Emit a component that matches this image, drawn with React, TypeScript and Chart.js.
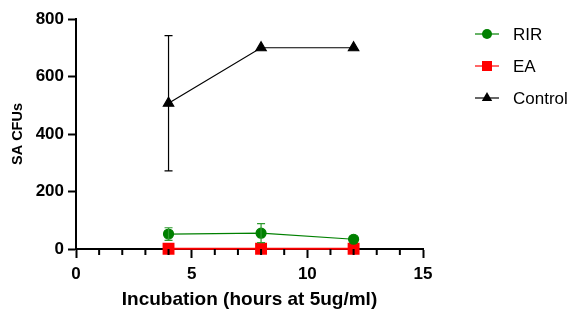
import React, { useEffect, useRef } from "react";
import { Chart, registerables } from "chart.js";

Chart.register(...registerables);

const hours = [4, 8, 12];
const rirValues = [52, 55, 34];
const rirErrors = [22, 33, 0];
const eaValues = [1, 1, 1];
const eaErrors = [0, 0, 0];
const controlValues = [507, 700, 700];
const controlErrors = [235, 0, 0];
const xTicks = [0, 5, 10, 15];
const xMinorTicks = [1, 2, 3, 4, 6, 7, 8, 9, 11, 12, 13, 14];
const yTicks = [0, 200, 400, 600, 800];

const seriesLabels = ["RIR", "EA", "Control"];
const seriesColors = ["#008000", "#ff0000", "#000000"];
const errorColors = ["#2e9a2e", "#ff0000", "#000000"];
const seriesErrors = [rirErrors, eaErrors, controlErrors];

const errorBarPlugin = {
  id: "errorBars",
  afterDatasetsDraw(chart: any) {
    const { ctx } = chart;
    const xs = chart.scales.x;
    const ys = chart.scales.y;
    ctx.save();
    chart.data.datasets.forEach((ds: any, i: number) => {
      const errs = seriesErrors[i];
      ds.data.forEach((p: any, j: number) => {
        const e = errs[j];
        if (!e) return;
        const px = xs.getPixelForValue(p.x);
        const top = ys.getPixelForValue(p.y + e);
        const bot = ys.getPixelForValue(p.y - e);
        ctx.strokeStyle = errorColors[i];
        ctx.lineWidth = 1.2;
        ctx.beginPath();
        ctx.moveTo(px, top);
        ctx.lineTo(px, bot);
        ctx.moveTo(px - 4, top);
        ctx.lineTo(px + 4, top);
        ctx.moveTo(px - 4, bot);
        ctx.lineTo(px + 4, bot);
        ctx.stroke();
      });
    });
    ctx.restore();
  },
};

const minorTickPlugin = {
  id: "minorTicks",
  afterDraw(chart: any) {
    const { ctx } = chart;
    const xs = chart.scales.x;
    const y0 = chart.chartArea.bottom;
    ctx.save();
    ctx.strokeStyle = "#000";
    ctx.lineWidth = 2;
    ctx.beginPath();
    xMinorTicks.forEach((v) => {
      const px = xs.getPixelForValue(v);
      ctx.moveTo(px, y0);
      ctx.lineTo(px, y0 + 6);
    });
    ctx.stroke();
    ctx.restore();
  },
};

const legendPlugin = {
  id: "customLegend",
  afterDraw(chart: any) {
    const { ctx } = chart;
    const x0 = 475;
    const x1 = 499;
    const ys = [34, 66, 98];
    ctx.save();
    chart.data.datasets.forEach((ds: any, i: number) => {
      const y = ys[i];
      ctx.strokeStyle = ds.borderColor;
      ctx.lineWidth = 1.2;
      ctx.beginPath();
      ctx.moveTo(x0, y);
      ctx.lineTo(x1, y);
      ctx.stroke();
      ctx.fillStyle = ds.pointBackgroundColor;
      const cx = (x0 + x1) / 2;
      ctx.beginPath();
      if (ds.pointStyle === "circle") {
        ctx.arc(cx, y, 5, 0, Math.PI * 2);
      } else if (ds.pointStyle === "rect") {
        ctx.rect(cx - 5, y - 5, 10, 10);
      } else {
        ctx.moveTo(cx, y - 6);
        ctx.lineTo(cx + 5.2, y + 3);
        ctx.lineTo(cx - 5.2, y + 3);
        ctx.closePath();
      }
      ctx.fill();
      ctx.fillStyle = "#000";
      ctx.font = "17px 'Liberation Sans', Arial, sans-serif";
      ctx.textAlign = "left";
      ctx.textBaseline = "middle";
      ctx.fillText(ds.label, 513, y + 1);
    });
    ctx.restore();
  },
};

export default function App() {
  const ref = useRef<HTMLCanvasElement>(null);
  useEffect(() => {
    if (!ref.current) return;
    const mk = (vals: number[]) => vals.map((v, i) => ({ x: hours[i], y: v }));
    const font = "'Liberation Sans', Arial, sans-serif";
    const chart = new Chart(ref.current, {
      type: "line",
      data: {
        datasets: [
          {
            label: seriesLabels[0],
            data: mk(rirValues),
            borderColor: seriesColors[0],
            backgroundColor: seriesColors[0],
            pointBackgroundColor: seriesColors[0],
            pointBorderColor: seriesColors[0],
            pointStyle: "circle",
            pointRadius: 5,
            borderWidth: 1.2,
            clip: false,
          },
          {
            label: seriesLabels[1],
            data: mk(eaValues),
            borderColor: seriesColors[1],
            backgroundColor: seriesColors[1],
            pointBackgroundColor: seriesColors[1],
            pointBorderColor: seriesColors[1],
            pointStyle: "rect",
            pointRadius: 7,
            borderWidth: 2,
            clip: false,
          },
          {
            label: seriesLabels[2],
            data: mk(controlValues),
            borderColor: seriesColors[2],
            backgroundColor: seriesColors[2],
            pointBackgroundColor: seriesColors[2],
            pointBorderColor: seriesColors[2],
            pointStyle: "triangle",
            pointRadius: 6,
            borderWidth: 1.2,
            clip: false,
          },
        ] as any,
      },
      options: {
        animation: false,
        responsive: false,
        maintainAspectRatio: false,
        layout: { padding: { left: 0, right: 152, top: 19, bottom: 0 } },
        plugins: { legend: { display: false }, tooltip: { enabled: false } },
        scales: {
          x: {
            type: "linear",
            min: 0,
            max: 15,
            afterBuildTicks: (s: any) => {
              s.ticks = xTicks.map((v) => ({ value: v }));
            },
            afterFit: (s: any) => {
              s.height = 60;
            },
            ticks: {
              color: "#000",
              font: { family: font, size: 17, weight: "bold" },
              padding: 6,
            },
            grid: {
              drawOnChartArea: false,
              tickLength: 9,
              tickWidth: 2,
              tickColor: "#000",
            },
            border: { color: "#000", width: 2 },
            title: {
              display: true,
              text: "Incubation (hours at 5ug/ml)",
              color: "#000",
              font: { family: font, size: 19, weight: "bold", lineHeight: 1.0 },
              padding: { top: 0, bottom: 0 },
            },
          },
          y: {
            type: "linear",
            min: 0,
            max: 800,
            afterBuildTicks: (s: any) => {
              s.ticks = yTicks.map((v) => ({ value: v }));
            },
            afterFit: (s: any) => {
              s.width = 76;
            },
            ticks: {
              color: "#000",
              font: { family: font, size: 17, weight: "bold" },
              padding: 4,
            },
            grid: {
              drawOnChartArea: false,
              tickLength: 8,
              tickWidth: 2,
              tickColor: "#000",
            },
            border: { color: "#000", width: 2 },
            title: {
              display: true,
              text: "SA CFUs",
              color: "#000",
              font: { family: font, size: 14.5, weight: "bold", lineHeight: 1.0 },
              padding: { top: 11, bottom: 0 },
            },
          },
        },
      },
      plugins: [errorBarPlugin, minorTickPlugin, legendPlugin],
    } as any);
    return () => chart.destroy();
  }, []);
  return (
    <div style={{ position: "fixed", left: 0, top: 0, width: 575, height: 309, background: "#fff" }}>
      <canvas ref={ref} width={575} height={309} style={{ width: 575, height: 309 }} />
    </div>
  );
}
